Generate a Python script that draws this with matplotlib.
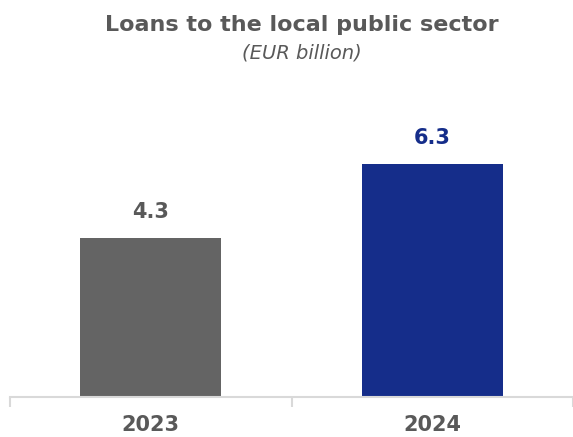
import matplotlib
matplotlib.use("Agg")
import matplotlib.pyplot as plt

categories = ["2023", "2024"]
values = [4.3, 6.3]
bar_colors = ["#646464", "#152D8A"]
label_colors = ["#595959", "#152D8A"]

W, H = 573, 437
fig = plt.figure(figsize=(W / 100, H / 100), dpi=100)
# axes: baseline at 40px from bottom, left at 10px
ax = fig.add_axes([10 / W, 40 / H, (W - 10) / W, 296 / H])
x = list(range(len(categories)))
ax.bar(x, values, width=0.5, color=bar_colors, zorder=2)
ax.set_xlim(-0.5, -0.5 + (W - 10) / 287)
ax.set_ylim(0, 296 / 37)

for xi, v, c in zip(x, values, label_colors):
    ax.text(xi, v + 0.42, f"{v:.1f}", ha="center", va="bottom", fontsize=15,
            fontweight="bold", color=c)

for s in ["top", "right", "left"]:
    ax.spines[s].set_visible(False)
ax.spines["bottom"].set_color("#D9D9D9")
ax.spines["bottom"].set_linewidth(1.5)
ax.set_yticks([])
ax.set_xticks(x)
ax.set_xticklabels(categories, fontsize=15, fontweight="bold", color="#595959")
ax.tick_params(axis="x", which="major", length=0, pad=13)
ax.set_xticks([-0.5, 0.5, 1.5], minor=True)
ax.tick_params(axis="x", which="minor", length=7, width=1.5, color="#D9D9D9")

fig.text(302 / W, 1 - 25 / H, "Loans to the local public sector", ha="center", va="center",
         fontsize=16, fontweight="bold", color="#595959")
fig.text(302 / W, 1 - 53 / H, "(EUR billion)", ha="center", va="center",
         fontsize=14, style="italic", color="#595959")

fig.savefig("out.png", dpi=100)
